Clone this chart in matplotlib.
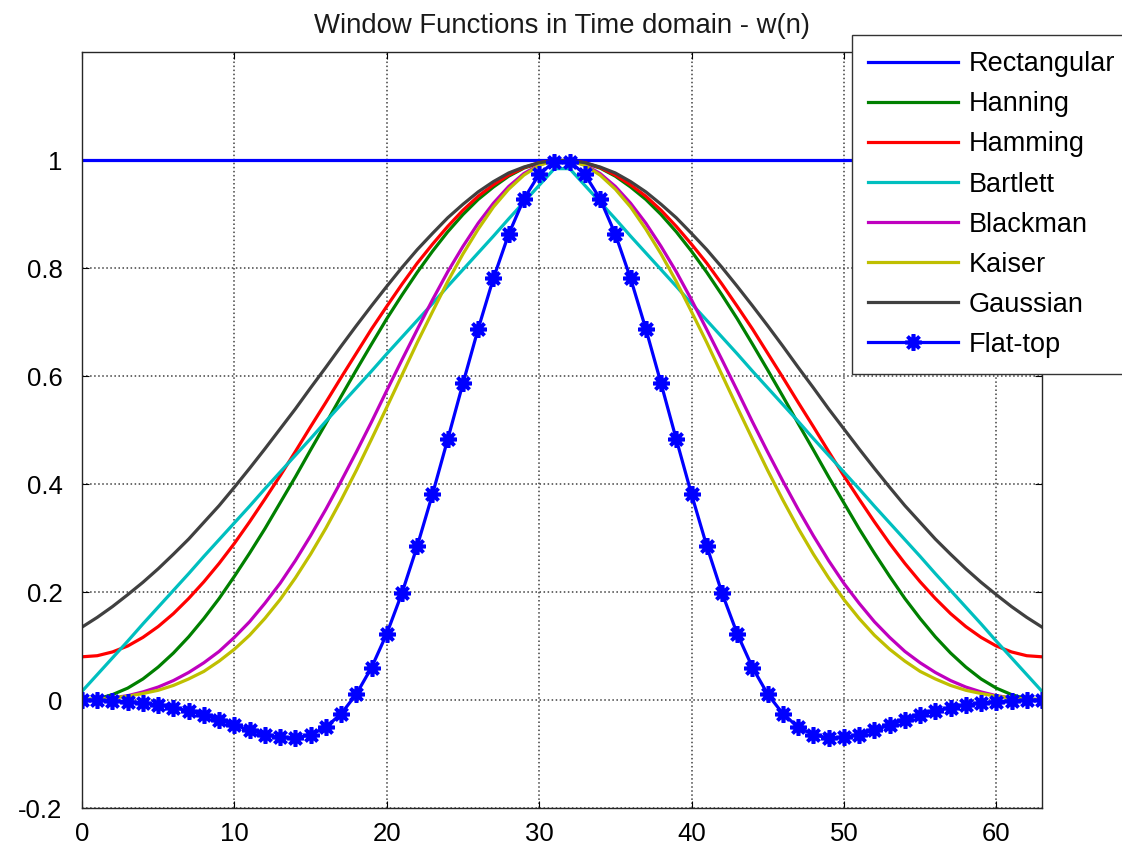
import matplotlib
matplotlib.use("Agg")
import matplotlib.pyplot as plt

plt.rcParams['font.family'] = ['Liberation Sans', 'DejaVu Sans']

# sample index n = 0..63
n = list(range(64))

rectangular = [1.0] * 64

hanning = [0.000, 0.002, 0.010, 0.022, 0.039, 0.061, 0.087, 0.117, 0.151, 0.188, 0.229, 0.272, 0.317, 0.365, 0.413, 0.463,
           0.512, 0.562, 0.611, 0.659, 0.706, 0.750, 0.792, 0.831, 0.867, 0.899, 0.927, 0.950, 0.970, 0.985, 0.994, 0.999,
           0.999, 0.994, 0.985, 0.970, 0.950, 0.927, 0.899, 0.867, 0.831, 0.792, 0.750, 0.706, 0.659, 0.611, 0.562, 0.512,
           0.463, 0.413, 0.365, 0.317, 0.272, 0.229, 0.188, 0.151, 0.117, 0.087, 0.061, 0.039, 0.022, 0.010, 0.002, 0.000]

hamming = [0.080, 0.082, 0.089, 0.100, 0.116, 0.136, 0.160, 0.188, 0.219, 0.253, 0.290, 0.330, 0.372, 0.415, 0.460, 0.506,
           0.551, 0.597, 0.642, 0.687, 0.729, 0.770, 0.809, 0.844, 0.877, 0.907, 0.933, 0.954, 0.972, 0.986, 0.995, 0.999,
           0.999, 0.995, 0.986, 0.972, 0.954, 0.933, 0.907, 0.877, 0.844, 0.809, 0.770, 0.729, 0.687, 0.642, 0.597, 0.551,
           0.506, 0.460, 0.415, 0.372, 0.330, 0.290, 0.253, 0.219, 0.188, 0.160, 0.136, 0.116, 0.100, 0.089, 0.082, 0.080]

bartlett = [0.016, 0.047, 0.078, 0.109, 0.141, 0.172, 0.203, 0.234, 0.266, 0.297, 0.328, 0.359, 0.391, 0.422, 0.453, 0.484,
            0.516, 0.547, 0.578, 0.609, 0.641, 0.672, 0.703, 0.734, 0.766, 0.797, 0.828, 0.859, 0.891, 0.922, 0.953, 0.984,
            0.984, 0.953, 0.922, 0.891, 0.859, 0.828, 0.797, 0.766, 0.734, 0.703, 0.672, 0.641, 0.609, 0.578, 0.547, 0.516,
            0.484, 0.453, 0.422, 0.391, 0.359, 0.328, 0.297, 0.266, 0.234, 0.203, 0.172, 0.141, 0.109, 0.078, 0.047, 0.016]

blackman = [0.000, 0.001, 0.004, 0.008, 0.015, 0.024, 0.036, 0.051, 0.069, 0.090, 0.116, 0.145, 0.179, 0.216, 0.258, 0.304,
            0.353, 0.405, 0.459, 0.515, 0.573, 0.630, 0.686, 0.741, 0.793, 0.840, 0.883, 0.920, 0.951, 0.975, 0.991, 0.999,
            0.999, 0.991, 0.975, 0.951, 0.920, 0.883, 0.840, 0.793, 0.741, 0.686, 0.630, 0.573, 0.515, 0.459, 0.405, 0.353,
            0.304, 0.258, 0.216, 0.179, 0.145, 0.116, 0.090, 0.069, 0.051, 0.036, 0.024, 0.015, 0.008, 0.004, 0.001, 0.000]

kaiser = [0.001, 0.002, 0.004, 0.007, 0.012, 0.018, 0.027, 0.039, 0.053, 0.072, 0.094, 0.120, 0.151, 0.186, 0.226, 0.270,
          0.318, 0.370, 0.425, 0.483, 0.542, 0.602, 0.662, 0.719, 0.775, 0.826, 0.872, 0.913, 0.946, 0.972, 0.990, 0.999,
          0.999, 0.990, 0.972, 0.946, 0.913, 0.872, 0.826, 0.775, 0.719, 0.662, 0.602, 0.542, 0.483, 0.425, 0.370, 0.318,
          0.270, 0.226, 0.186, 0.151, 0.120, 0.094, 0.072, 0.053, 0.039, 0.027, 0.018, 0.012, 0.007, 0.004, 0.002, 0.001]

gaussian = [0.135, 0.153, 0.173, 0.195, 0.218, 0.243, 0.270, 0.298, 0.329, 0.360, 0.394, 0.429, 0.465, 0.502, 0.539, 0.578,
            0.616, 0.655, 0.693, 0.730, 0.766, 0.801, 0.834, 0.864, 0.893, 0.918, 0.941, 0.960, 0.976, 0.987, 0.995, 0.999,
            0.999, 0.995, 0.987, 0.976, 0.960, 0.941, 0.918, 0.893, 0.864, 0.834, 0.801, 0.766, 0.730, 0.693, 0.655, 0.616,
            0.578, 0.539, 0.502, 0.465, 0.429, 0.394, 0.360, 0.329, 0.298, 0.270, 0.243, 0.218, 0.195, 0.173, 0.153, 0.135]

flattop = [-0.0004, -0.0007, -0.0015, -0.0030, -0.0054, -0.0090, -0.0139, -0.0202, -0.0279, -0.0368, -0.0464, -0.0559,
           -0.0641, -0.0694, -0.0702, -0.0645, -0.0503, -0.0257, 0.0107, 0.0601, 0.1227, 0.1982, 0.2851, 0.3810,
           0.4827, 0.5863, 0.6873, 0.7809, 0.8625, 0.9279, 0.9735, 0.9970,
           0.9970, 0.9735, 0.9279, 0.8625, 0.7809, 0.6873, 0.5863, 0.4827, 0.3810, 0.2851, 0.1982, 0.1227,
           0.0601, 0.0107, -0.0257, -0.0503, -0.0645, -0.0702, -0.0694, -0.0641, -0.0559, -0.0464, -0.0368, -0.0279,
           -0.0202, -0.0139, -0.0090, -0.0054, -0.0030, -0.0015, -0.0007, -0.0004]

xticks = [0, 10, 20, 30, 40, 50, 60]
yticks = [-0.2, 0, 0.2, 0.4, 0.6, 0.8, 1]
ytick_labels = ["-0.2", "0", "0.2", "0.4", "0.6", "0.8", "1"]

fig = plt.figure(figsize=(11.22, 8.52), dpi=100)
ax = fig.add_axes([82 / 1122, 1 - 808 / 852, 960 / 1122, 756 / 852])

lw = 2.3
ax.plot(n, rectangular, color=(0, 0, 1), lw=lw, label="Rectangular")
ax.plot(n, hanning, color=(0, 0.5, 0), lw=lw, label="Hanning")
ax.plot(n, hamming, color=(1, 0, 0), lw=lw, label="Hamming")
ax.plot(n, bartlett, color=(0, 0.75, 0.75), lw=lw, label="Bartlett")
ax.plot(n, blackman, color=(0.75, 0, 0.75), lw=lw, label="Blackman")
ax.plot(n, kaiser, color=(0.75, 0.75, 0), lw=lw, label="Kaiser")
ax.plot(n, gaussian, color=(0.25, 0.25, 0.25), lw=lw, label="Gaussian")
ax.plot(n, flattop, color=(0, 0, 1), lw=lw, marker=(8, 2, 0), ms=12, mew=2.6, label="Flat-top")

ax.set_xlim(0, 63)
ax.set_ylim(-0.2, 1.2)
ax.set_xticks(xticks)
ax.set_yticks(yticks)
ax.set_yticklabels(ytick_labels)
ax.tick_params(direction="in", length=5, top=True, right=True, labelsize=18.5, color="k")
ax.tick_params(axis="y", pad=14)
ax.tick_params(axis="x", pad=10)
ax.grid(True, linestyle=":", color="0.25", lw=1.1)
for s in ax.spines.values():
    s.set_linewidth(1.0)
    s.set_color("0.15")

ax.set_title("Window Functions in Time domain - w(n)", fontsize=19.8, pad=14, color="0.1")

leg = ax.legend(loc="upper left", bbox_to_anchor=(852 / 1122, 1 - 35 / 852), bbox_transform=fig.transFigure,
                borderaxespad=0, fontsize=19.5, handlelength=3.3, handletextpad=0.4, labelspacing=0.52,
                borderpad=0.6, fancybox=False, framealpha=1, edgecolor="0.2", numpoints=1)
leg.get_frame().set_linewidth(1.0)

fig.savefig("out.png", dpi=100)
